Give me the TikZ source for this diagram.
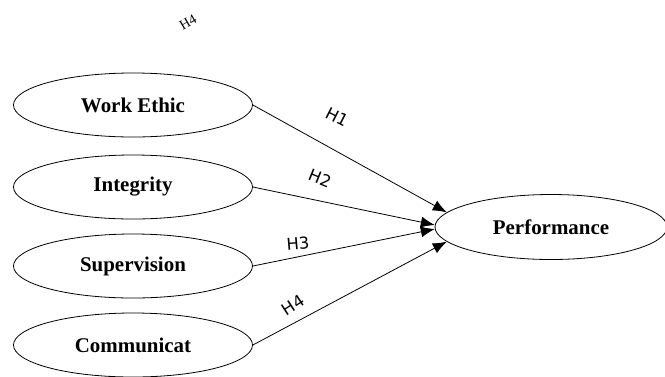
\documentclass[tikz,border=0pt]{standalone}
\usepackage{fontspec}
\setmainfont{Liberation Serif}
\newfontfamily\hypfont{DejaVu Sans}
\usetikzlibrary{shapes.geometric,arrows.meta}
\begin{document}
\begin{tikzpicture}
    [
    x=1bp,y=-1bp,
    construct/.style={ellipse,draw,line width=0.8bp,inner sep=0pt,minimum width=239bp,minimum height=64bp,font=\fontsize{21}{24}\selectfont\bfseries},
    outcome/.style={construct,minimum width=232bp,minimum height=65bp},
    hyp/.style={inner sep=0pt,font=\hypfont\fontsize{16.5}{18}\selectfont},
    path/.style={line width=0.8bp,-{Latex[length=14bp,width=11bp]}}
    ]
    \useasboundingbox (0,0) rectangle (665,376);
    \node (stray) at (188,22) [rotate=30,inner sep=0pt,font=\fontsize{14}{15}\selectfont] {H4};
    \node (ethic) at (133,105) [construct] {Work Ethic};
    \node (integ) at (133,187) [construct] {Integrity};
    \node (superv) at (133,266) [construct] {Supervision};
    \node (comm) at (133,345) [construct] {Communicat};
    \node (perf) at (551,227) [outcome] {Performance};
    \draw [path] (ethic.east) to (perf.172);
    \draw [path] (integ.east) to (perf.179);
    \draw [path] (superv.east) to (perf.181);
    \draw [path] (comm.east) to (perf.188);
    \node (h1) at (337,117) [hyp,rotate=-27] {H1};
    \node (h2) at (320,178) [hyp,rotate=-22] {H2};
    \node (h3) at (298,244) [hyp,rotate=5] {H3};
    \node (h4) at (293,305) [hyp,rotate=33] {H4};
  \end{tikzpicture}
\end{document}
